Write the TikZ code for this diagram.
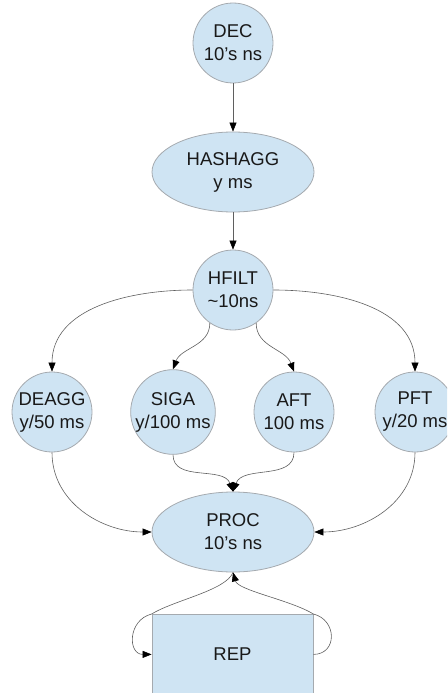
\documentclass[tikz,border=0pt]{standalone}
\usepackage{fontspec}
\setmainfont{Liberation Sans}
\usetikzlibrary{arrows.meta, shapes.geometric, positioning}
\definecolor{stagefill}{RGB}{207,228,243}
\definecolor{stageline}{RGB}{165,170,175}
\definecolor{wire}{RGB}{95,95,95}
\tikzset{
    stage/.style={draw=stageline, fill=stagefill, line width=0.8pt, align=center,
        inner sep=0pt, text=black!90, font=\fontsize{18.5}{23}\selectfont},
    rnd/.style={stage, circle, minimum size=80pt},
    oval/.style={stage, ellipse, minimum width=162pt, minimum height=80pt},
    blk/.style={stage, rectangle, minimum width=161pt, minimum height=80pt},
    flow/.style={draw=wire, line width=0.6pt, -{Triangle[length=9pt,width=7pt,black]}}
}

\begin{document}
\begin{tikzpicture}[x=1pt, y=1pt]
    \path[use as bounding box, clip] (0,0) rectangle (447,-693);
    % chain on top
    \node[rnd] (dec) at (233,-43) {DEC\\10's ns};
    \node[oval] (hashagg) at (233,-172) {HASHAGG\\y ms};
    \node[rnd] (hfilt) at (233,-290) {HFILT\\\textasciitilde10ns};
    % the four filters
    \node[rnd] (deagg) at (52,-412) {DEAGG\\y/50 ms};
    \node[rnd] (siga) at (173,-412) {SIGA\\y/100 ms};
    \node[rnd] (aft) at (294,-412) {AFT\\100 ms};
    \node[rnd] (pft) at (415,-412) {PFT\\y/20 ms};
    \node[oval] (proc) at (233,-532) {PROC\\10's ns};
    \node[blk, anchor=north] (rep) at (232.5,-614) {REP};

    \draw[flow] (dec) -- (hashagg);
    \draw[flow] (hashagg) -- (hfilt);
    \draw[flow] (hfilt.west) to[out=180,in=90] (deagg.north);
    \draw[flow] (hfilt.235) to[out=-90,in=70] (siga.north);
    \draw[flow] (hfilt.305) to[out=-90,in=110] (aft.north);
    \draw[flow] (hfilt.east) to[out=0,in=90] (pft.north);
    \draw[flow] (deagg.south) to[out=-90,in=180] (proc.west);
    \draw[flow] (siga.south) to[out=-90,in=110] (proc.north);
    \draw[flow] (aft.south) to[out=-90,in=70] (proc.north);
    \draw[flow] (pft.south) to[out=-90,in=0] (proc.east);
    \draw[flow] (proc.south) .. controls +(-7,-18) and +(23,14) .. (rep.north west)
        .. controls +(-24,-6) and +(-24,0) .. (rep.west);
    \draw[flow] (rep.east) .. controls +(24,0) and +(24,-6) .. (rep.north east)
        .. controls +(-23,14) and +(5,-18) .. (proc.south);
\end{tikzpicture}
\end{document}
